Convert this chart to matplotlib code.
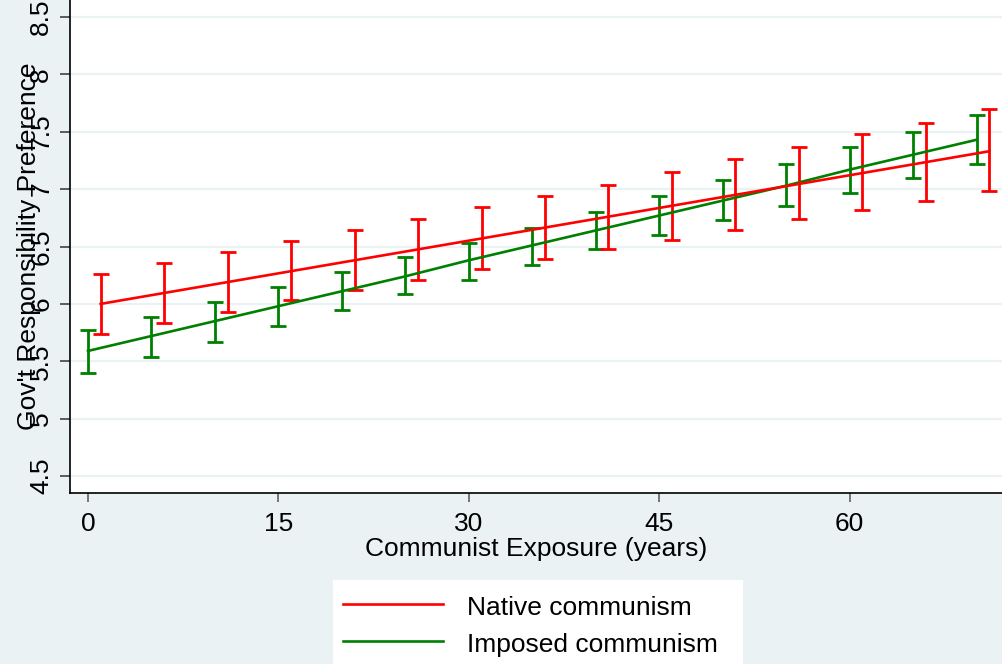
"""Gov't responsibility preference by communist exposure (Stata-style margins plot)."""

import matplotlib

matplotlib.use("Agg")
import matplotlib.pyplot as plt
from matplotlib.lines import Line2D
from matplotlib.patches import Rectangle

plt.rcParams["font.family"] = ["Liberation Sans", "DejaVu Sans"]

BG = "#EAF2F3"
RED = "#FF0000"
GREEN = "#008000"

# years of exposure; native series is drawn shifted by one year so bars don't overlap
years = [0, 5, 10, 15, 20, 25, 30, 35, 40, 45, 50, 55, 60, 65, 70]

native_est = [6.00, 6.095, 6.19, 6.285, 6.38, 6.475, 6.57, 6.665, 6.76, 6.855,
              6.95, 7.045, 7.14, 7.235, 7.33]
native_hi = [6.26, 6.36, 6.45, 6.55, 6.64, 6.74, 6.84, 6.94, 7.04, 7.15,
             7.26, 7.37, 7.48, 7.58, 7.70]
native_lo = [5.74, 5.83, 5.93, 6.03, 6.12, 6.21, 6.30, 6.39, 6.48, 6.56,
             6.64, 6.74, 6.82, 6.90, 6.98]

imposed_est = [5.59, 5.72, 5.85, 5.98, 6.11, 6.24, 6.38, 6.51, 6.64, 6.77,
               6.90, 7.03, 7.17, 7.30, 7.43]
imposed_hi = [5.77, 5.89, 6.02, 6.15, 6.28, 6.41, 6.53, 6.66, 6.80, 6.94,
              7.08, 7.22, 7.37, 7.50, 7.65]
imposed_lo = [5.40, 5.535, 5.67, 5.81, 5.95, 6.09, 6.21, 6.34, 6.48, 6.60,
              6.73, 6.85, 6.97, 7.10, 7.22]

x_ticks = [0, 15, 30, 45, 60]
y_ticks = [4.5, 5, 5.5, 6, 6.5, 7, 7.5, 8, 8.5]
y_tick_labels = ["4.5", "5", "5.5", "6", "6.5", "7", "7.5", "8", "8.5"]
legend_labels = ["Native communism", "Imposed communism"]

W, H = 1002, 664
fig = plt.figure(figsize=(W / 100, H / 100), dpi=100, facecolor=BG)
ax = fig.add_axes([70 / W, 1 - 493 / H, 1 - 70 / W, 493 / H])
ax.set_facecolor("white")

x_native = [y + 1 for y in years]


def draw(ax, xs, est, lo, hi, color):
    err = [[e - l for e, l in zip(est, lo)], [h - e for e, h in zip(est, hi)]]
    ax.errorbar(xs, est, yerr=err, fmt="none", ecolor=color, elinewidth=2.0,
                capsize=5.5, capthick=2.0, zorder=3)
    ax.plot(xs, est, color=color, linewidth=1.9, zorder=4)


draw(ax, years, imposed_est, imposed_lo, imposed_hi, GREEN)
draw(ax, x_native, native_est, native_lo, native_hi, RED)

ax.set_xlim(-1.417, 72.0)
ax.set_ylim(4.352, 8.648)
ax.set_xticks(x_ticks)
ax.set_yticks(y_ticks)
ax.set_yticklabels(y_tick_labels)

for y in y_ticks:
    ax.axhline(y, color=BG, linewidth=1.6, zorder=1)

for side in ("top", "right"):
    ax.spines[side].set_visible(False)
for side in ("left", "bottom"):
    ax.spines[side].set_linewidth(1.2)
    ax.spines[side].set_color("black")

ax.tick_params(axis="y", direction="out", length=7, width=1.1, color="#333333",
               labelsize=19, labelrotation=90, pad=5)
ax.tick_params(axis="x", direction="out", length=6.5, width=1.1, color="#555555",
               labelsize=19, pad=7.5)
for lab in ax.get_yticklabels():
    lab.set_verticalalignment("center")

ax.set_xlabel("Communist Exposure (years)", fontsize=19)
ax.xaxis.set_label_coords(0.5, -0.09)
ax.set_ylabel("Gov't Responsibility Preference", fontsize=19)
ax.yaxis.set_label_coords(-0.031, 0.5)

# legend box drawn by hand; it runs past the bottom edge like the original
fig.patches.append(Rectangle((333 / W, -0.05), 410 / W, 0.05 + 1 - 580 / H,
                             transform=fig.transFigure, facecolor="white",
                             edgecolor="none", zorder=5))
for color, label, ly, ty in [(RED, legend_labels[0], 604, 615),
                             (GREEN, legend_labels[1], 641, 652)]:
    fig.lines.append(Line2D([343 / W, 443 / W], [1 - ly / H, 1 - ly / H],
                            transform=fig.transFigure, color=color,
                            linewidth=1.9, zorder=6))
    fig.text(467 / W, 1 - ty / H, label, fontsize=19, va="baseline",
             ha="left", zorder=6)

fig.savefig("out.png", dpi=100, facecolor=BG)
